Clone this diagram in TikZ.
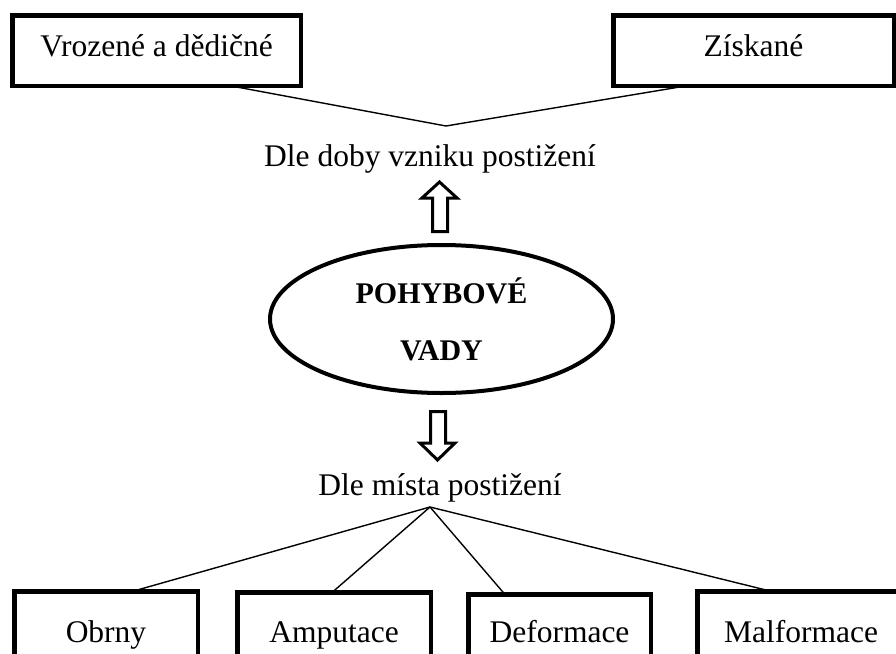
\documentclass[tikz,border=0pt]{standalone}
\usepackage{fontspec}
\setmainfont{Liberation Serif}
\usetikzlibrary{shapes.geometric}
\tikzset{
  catbox/.style={draw, line width=4.5pt, inner sep=0pt, outer sep=0pt, rectangle,
    font=\fontsize{31.5}{36}\selectfont, text height=22pt, text depth=11pt},
  thinline/.style={line width=1.4pt},
  blockarrow/.style={draw, line width=3pt, fill=white, line join=miter},
  caption/.style={font=\fontsize{31.5}{36}\selectfont, anchor=base, inner sep=0pt}
}
\begin{document}
\begin{tikzpicture}[x=1pt,y=-1pt]
\useasboundingbox (0,0) rectangle (896,653);
\clip (0,0) rectangle (896,653);
% top boxes
\node[catbox, minimum width=288.5pt, minimum height=70.5pt] (vroz) at (156.5,50.5) {Vrozené a dědičné};
\node[catbox, minimum width=280.5pt, minimum height=70.5pt] (zisk) at (753.5,50.5) {Získané};
\coordinate (ctop) at (446,126);
\draw[thinline] ([xshift=73.5pt]vroz.south) -- (ctop) -- ([xshift=-66.5pt]zisk.south);
\node[caption] (doba) at (430,166) {Dle doby vzniku postižení};
% up arrow
\draw[blockarrow] (432.5,231.5) -- (432.5,198) -- (422,198) -- (439.5,182) -- (457,198) -- (447.5,198) -- (447.5,231.5) -- cycle;
% ellipse
\node[ellipse, draw, line width=4pt, minimum width=343pt, minimum height=148pt, inner sep=0pt,
  align=center, font=\bfseries\fontsize{30}{57}\selectfont] (vady) at (441.5,319) {POHYBOVÉ\\VADY};
% down arrow
\draw[blockarrow] (430.5,411.5) -- (430.5,443) -- (420,443) -- (437.5,460) -- (455,443) -- (445.5,443) -- (445.5,411.5) -- cycle;
\node[caption] (misto) at (440,495) {Dle místa postižení};
\coordinate (cbot) at (430,507);
% bottom boxes (common text baseline at y = 642)
\node[catbox, minimum width=183.5pt, minimum height=90pt] (obrny) at (106,636.5) {Obrny};
\node[catbox, minimum width=193.5pt, minimum height=88pt] (amput) at (334,636.5) {Amputace};
\node[catbox, minimum width=182.5pt, minimum height=84pt] (deform) at (559.5,636.5) {Deformace};
\node[catbox, minimum width=207.5pt, minimum height=90pt] (malf) at (801,636.5) {Malformace};
\draw[thinline] (cbot) -- ([xshift=26pt]obrny.north);
\draw[thinline] (cbot) -- ([xshift=-2pt]amput.north);
\draw[thinline] (cbot) -- ([xshift=-54.5pt]deform.north);
\draw[thinline] (cbot) -- ([xshift=-29pt]malf.north);
\end{tikzpicture}
\end{document}
